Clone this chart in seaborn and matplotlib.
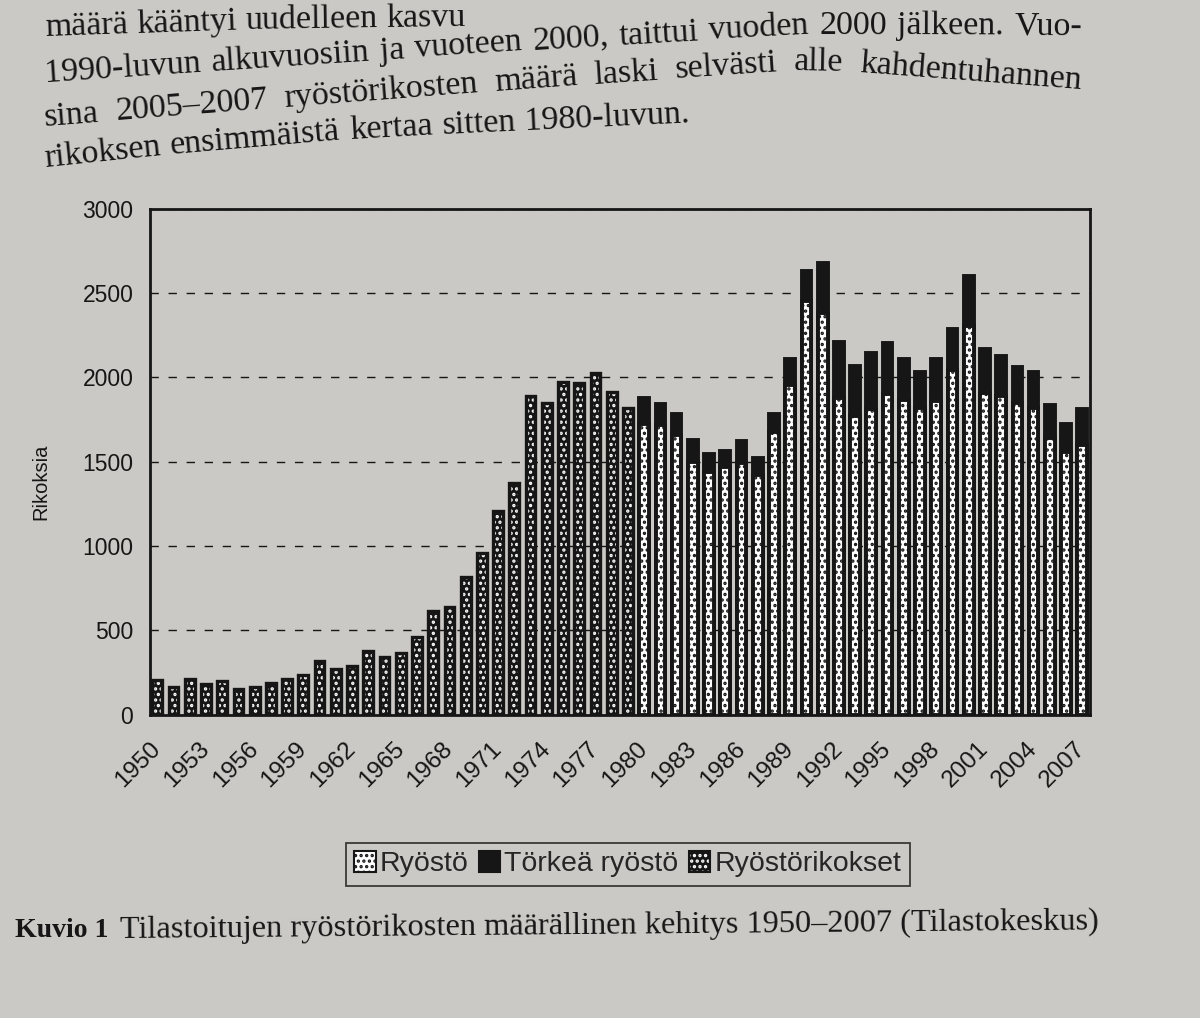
import math
import numpy as np
import matplotlib
matplotlib.use('Agg')
import matplotlib.pyplot as plt
import matplotlib.transforms as mtransforms
import seaborn as sns
import pandas as pd
from matplotlib.patches import Patch

# Vuodet ja arvot luettu kuvasta (arvioita)
years = list(range(1950, 2008))
rikokset_years = list(range(1950, 1980))
rikokset = [208, 163, 212, 179, 200, 150, 163, 188, 212, 237,
            317, 270, 290, 378, 343, 366, 460, 613, 638, 815,
            956, 1205, 1375, 1890, 1845, 1970, 1968, 2025, 1912, 1818]
stack_years = list(range(1980, 2008))
ryosto = [1726, 1715, 1659, 1500, 1439, 1469, 1494, 1423, 1673, 1954,
          2455, 2384, 1878, 1772, 1812, 1904, 1865, 1820, 1857, 2043,
          2306, 1910, 1890, 1849, 1818, 1638, 1558, 1598]
torkea = [151, 128, 123, 131, 105, 97, 127, 101, 108, 156,
          178, 294, 332, 295, 331, 302, 241, 213, 253, 241,
          296, 259, 239, 210, 211, 198, 163, 212]
tick_years = list(range(1950, 2008, 3))
y_ticks = [0, 500, 1000, 1500, 2000, 2500, 3000]

legend_labels = ['Ryöstö', 'Törkeä ryöstö', 'Ryöstörikokset']
y_label = 'Rikoksia'
page_lines = [
    'määrä kääntyi uudelleen kasvu',
    '1990-luvun alkuvuosiin ja vuoteen 2000, taittui vuoden 2000 jälkeen. Vuo-',
    'sina 2005–2007 ryöstörikosten määrä laski selvästi alle kahdentuhannen',
    'rikoksen ensimmäistä kertaa sitten 1980-luvun.',
]
caption_bold = 'Kuvio 1'
caption_text = 'Tilastoitujen ryöstörikosten määrällinen kehitys 1950–2007 (Tilastokeskus)'

sns.set_style('white')
plt.rcParams['font.family'] = ['Liberation Sans', 'DejaVu Sans']
plt.rcParams['hatch.linewidth'] = 1.6

paper = '#cac9c5'
ink = '#161616'
serif = ['Liberation Serif', 'DejaVu Serif']
W, H = 1200, 1018

order = [str(y) for y in years]
df_old = pd.DataFrame({'vuosi': [str(y) for y in rikokset_years], 'maara': rikokset})
df_new = pd.DataFrame({'vuosi': [str(y) for y in stack_years],
                       'ryosto': ryosto, 'torkea': torkea})
df_new['yhteensa'] = df_new['ryosto'] + df_new['torkea']

fig = plt.figure(figsize=(W / 100, H / 100), dpi=100, facecolor=paper)
ax = fig.add_axes([0.125, 0.298, 0.783, 0.497])
ax.set_facecolor(paper)

bar_kw = dict(order=order, width=0.6, errorbar=None, saturation=1, ax=ax)
# ryöstörikokset: musta pylväs, valkoiset pisteet, musta reunus päälle
sns.barplot(data=df_old, x='vuosi', y='maara', color=ink, edgecolor='white',
            hatch='...', linewidth=0, **bar_kw)
sns.barplot(data=df_old, x='vuosi', y='maara', fill=False, edgecolor=ink,
            linewidth=2.4, **bar_kw)
# pino: ensin kokonaismäärä mustana, päälle ryöstöt
sns.barplot(data=df_new, x='vuosi', y='yhteensa', color=ink, edgecolor=ink,
            linewidth=2.8, **bar_kw)
sns.barplot(data=df_new, x='vuosi', y='ryosto', color='white', edgecolor=ink,
            hatch='...', linewidth=2.8, **bar_kw)

ax.set_axisbelow(True)
ax.yaxis.grid(True, color=ink, linestyle=(0, (6, 7)), linewidth=1)
ax.xaxis.grid(False)
ax.set_ylim(0, 3000)
ax.set_yticks(y_ticks)
ax.set_xlim(-0.45, len(years) - 0.55)
ax.set_xticks([years.index(y) for y in tick_years])
ax.set_xticklabels([str(y) for y in tick_years], rotation=45, ha='right',
                   rotation_mode='anchor', va='center')
shift = mtransforms.ScaledTranslation(-10 / 100, -6 / 100, fig.dpi_scale_trans)
for lab in ax.get_xticklabels():
    lab.set_transform(lab.get_transform() + shift)
ax.tick_params(axis='y', length=0, pad=12, labelsize=16.5, colors=ink)
ax.tick_params(axis='x', length=0, pad=22, labelsize=17.5, colors=ink)
ax.set_xlabel('')
ax.set_ylabel(y_label, fontsize=14.5, color=ink)
ax.yaxis.set_label_coords(-0.106, 0.46)
for s in ax.spines.values():
    s.set_visible(True)
    s.set_color(ink)
    s.set_linewidth(2)

h_old = (Patch(facecolor=ink, edgecolor='white', hatch='...', linewidth=0),
         Patch(fill=False, edgecolor=ink, linewidth=1.5))
handles = [
    Patch(facecolor='white', edgecolor=ink, hatch='...', linewidth=1.5),
    Patch(facecolor=ink, edgecolor=ink, linewidth=1.5),
    h_old,
]
leg = fig.legend(handles, legend_labels, loc='center', bbox_to_anchor=(0.523, 0.151),
                 ncol=3, fontsize=20.5, frameon=True, fancybox=False,
                 handlelength=0.75, handleheight=0.75, handletextpad=0.15,
                 columnspacing=0.35, borderpad=0.3)
leg.get_frame().set_edgecolor(ink)
leg.get_frame().set_linewidth(1.3)
leg.get_frame().set_facecolor(paper)

# kirjan tekstiä kuvan yläpuolella: sivu on kaareva, joten rivit seuraavat
# kaarevaa perusviivaa (x, y pikseleinä ylhäältä)
renderer = fig.canvas.get_renderer()
baselines = [
    ([45, 250, 460], [36, 29, 26]),
    ([45, 300, 560, 800, 1070], [82, 65, 48, 34, 35]),
    ([45, 300, 560, 800, 960, 1080], [126, 106, 86, 70, 75, 89]),
    ([45, 200, 370, 690], [167, 151, 137, 122]),
]
line_end = [None, 1082, 1082, 690]
page_size = 24.5
for (bx, by), x_end, line in zip(baselines, line_end, page_lines):
    words = line.split(' ')
    widths = []
    for w in words:
        t = fig.text(0, 0, w, family=serif, fontsize=page_size)
        widths.append(t.get_window_extent(renderer).width)
        t.remove()
    space = page_size * 100 / 72 * 0.25
    gap = space if x_end is None else (x_end - bx[0] - sum(widths)) / (len(words) - 1)
    x = bx[0]
    for w, wd in zip(words, widths):
        y = np.interp(x, bx, by)
        slope = (np.interp(x + wd, bx, by) - y) / wd
        rot = -math.degrees(math.atan(slope))
        fig.text(x / W, 1 - y / H, w, family=serif, fontsize=page_size, color=ink,
                 rotation=rot, rotation_mode='anchor', ha='left', va='baseline')
        x += wd + gap

fig.text(15 / W, 1 - 937 / H, caption_bold, family=serif, fontsize=20,
         weight='bold', color=ink, ha='left', va='baseline')
fig.text(120 / W, 1 - 938 / H, caption_text, family=serif, fontsize=23.3,
         color=ink, ha='left', va='baseline', rotation=0.5, rotation_mode='anchor')

fig.savefig('out.png', dpi=100, facecolor=paper)
